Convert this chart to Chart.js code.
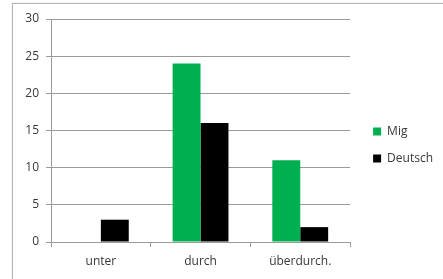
<!DOCTYPE html>
<html>
<head>
<meta charset="utf-8">
<script src="https://cdn.jsdelivr.net/npm/chart.js@4"></script>
<style>
  body { margin: 0; background: #fff; }
  #wrap { position: relative; width: 443px; height: 279px; overflow: hidden; }
  #frame { position: absolute; left: 12px; top: 3px; width: 440px; height: 290px;
           border: 1px solid #b4b4b4; box-shadow: 0 0 1px #ccc; }
  canvas { position: absolute; left: 0; top: 0; }
</style>
</head>
<body>
<div id="wrap">
  <div id="frame"></div>
  <canvas id="chart" width="443" height="279"></canvas>
</div>
<script>
const categories = ['unter', 'durch', 'überdurch.'];
const migValues = [0, 24, 11];
const deutschValues = [3, 16, 2];
const yTicks = [0, 5, 10, 15, 20, 25, 30];

const textColor = '#383838';
const gridColor = '#9a9a9a';
const legendGap = 8; // extra room between plot and legend

// widen the legend box to the left without moving its items
const legendSpacer = {
    id: 'legendSpacer',
    beforeInit(chart) {
        const legend = chart.legend;
        const fit = legend.fit;
        legend.fit = function () {
            fit.call(this);
            this.width += legendGap;
        };
        const draw = legend._draw;
        legend._draw = function () {
            this.ctx.save();
            this.ctx.translate(legendGap, 0);
            draw.call(this);
            this.ctx.restore();
        };
    }
};

new Chart(document.getElementById('chart'), {
    type: 'bar',
    data: {
        labels: categories,
        datasets: [{
            label: 'Mig',
            data: migValues,
            backgroundColor: '#00b050'
        },
        {
            label: 'Deutsch',
            data: deutschValues,
            backgroundColor: '#000000'
        }]
    },
    options: {
        responsive: false,
        animation: false,
        layout: {
            padding: { left: 14, top: 19, right: 0, bottom: 8 }
        },
        datasets: {
            bar: { categoryPercentage: 0.56, barPercentage: 1.0 }
        },
        plugins: {
            tooltip: { enabled: false },
            legend: {
                position: 'right',
                align: 'center',
                labels: {
                    boxWidth: 8,
                    boxHeight: 8,
                    padding: 15,
                    color: textColor,
                    font: { family: 'Open Sans', size: 12 }
                }
            }
        },
        scales: {
            x: {
                grid: {
                    offset: true,
                    drawOnChartArea: false,
                    tickLength: 5,
                    color: gridColor
                },
                border: { color: gridColor },
                ticks: {
                    color: textColor,
                    padding: 7,
                    font: { family: 'Open Sans', size: 12 }
                },
                afterFit: (scale) => { scale.height = 29; }
            },
            y: {
                min: 0,
                max: 30,
                afterBuildTicks: (scale) => { scale.ticks = yTicks.map(v => ({ value: v })); },
                grid: {
                    color: gridColor,
                    tickLength: 5
                },
                border: { color: gridColor },
                ticks: {
                    color: textColor,
                    padding: 7,
                    font: { family: 'Open Sans', size: 12 }
                },
                afterFit: (scale) => { scale.width = 37; }
            }
        }
    },
    plugins: [legendSpacer]
});
</script>
</body>
</html>
